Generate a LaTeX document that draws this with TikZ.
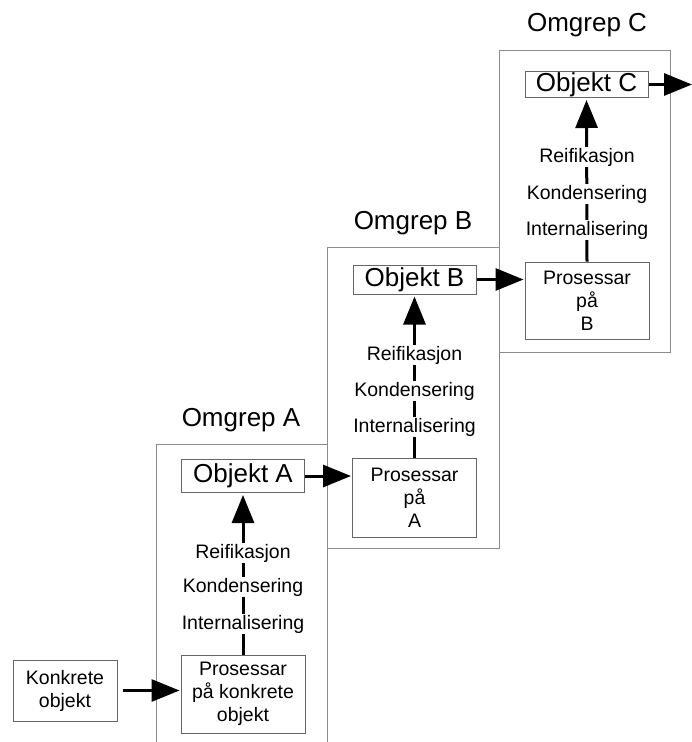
\documentclass[tikz,border=0pt]{standalone}
\usepackage{fontspec}
\setmainfont{Liberation Sans}
\usetikzlibrary{arrows.meta}
\usetikzlibrary{positioning}

\begin{document}
\begin{tikzpicture}
	[x=1pt,y=-1pt,
	omgrep/.style={draw=black!45,line width=1pt},
	title/.style={font=\fontsize{26}{28}\selectfont,inner sep=0pt},
	obj/.style={rectangle,draw=black!60,line width=1pt,minimum width=123pt,inner sep=0pt,font=\fontsize{26}{28}\selectfont},
	proc/.style={rectangle,draw=black!60,line width=1pt,minimum width=124pt,align=center,inner sep=0pt,font=\fontsize{19.5}{23}\selectfont},
	stage/.style={fill=white,inner sep=1pt,text height=14pt,text depth=4pt,font=\fontsize{19.5}{22}\selectfont},
	flow/.style={-{Triangle[length=28pt,width=22pt]},line width=3pt}]
	\useasboundingbox (0,0) rectangle (692,742);
	% outer boxes
	\draw[omgrep] (156,760) -- (156,444) -- (327,444) -- (327,760);
	\draw[omgrep] (327,247) rectangle (499,548);
	\draw[omgrep] (499,50) rectangle (670,352);
	\node[title] (omgrepA) at (241,420) {Omgrep A};
	\node[title] (omgrepB) at (413,223) {Omgrep B};
	\node[title] (omgrepC) at (587,25) {Omgrep C};
	% boxes
	\node[proc,minimum width=104pt,minimum height=61pt] (konk) at (65,690.5) {Konkrete\\objekt};
	\node[proc,minimum height=78pt] (procA) at (243,694) {Prosessar\\på konkrete\\objekt};
	\node[obj,minimum height=33pt] (objA) at (243,476) {Objekt A};
	\node[proc,minimum height=79pt] (procB) at (414.5,497.5) {Prosessar\\på\\A};
	\node[obj,minimum height=29pt] (objB) at (414.5,279.5) {Objekt B};
	\node[proc,minimum height=77pt] (procC) at (587,300.5) {Prosessar\\på\\B};
	\node[obj,minimum height=26pt] (objC) at (586.5,84.5) {Objekt C};
	\coordinate (out) at (692,84.5);
	% vertical arrows
	\draw[flow,shorten >=2pt] (procA.north) -- (objA.south);
	\draw[flow,shorten >=2pt] (procB.north) -- (objB.south);
	\draw[flow,shorten >=2pt] (procC.north) -- (objC.south);
	\node[stage] (reiA) at (243,553) {Reifikasjon};
	\node[stage] (konA) at (243,587) {Kondensering};
	\node[stage] (intA) at (243,624) {Internalisering};
	\node[stage] (reiB) at (414.5,355) {Reifikasjon};
	\node[stage] (konB) at (414.5,391) {Kondensering};
	\node[stage] (intB) at (414.5,427) {Internalisering};
	\node[stage] (reiC) at (587,157) {Reifikasjon};
	\node[stage] (konC) at (587,194) {Kondensering};
	\node[stage] (intC) at (587,230) {Internalisering};
	% horizontal arrows
	\draw[flow,shorten <=5pt,shorten >=1pt] (konk.east) -- (konk.east -| procA.west);
	\draw[flow,shorten >=1pt] (objA.east) -- (objA.east -| procB.west);
	\draw[flow,shorten >=1pt] (objB.east) -- (objB.east -| procC.west);
	\draw[flow] (objC.east) -- (out);
\end{tikzpicture}
\end{document}
